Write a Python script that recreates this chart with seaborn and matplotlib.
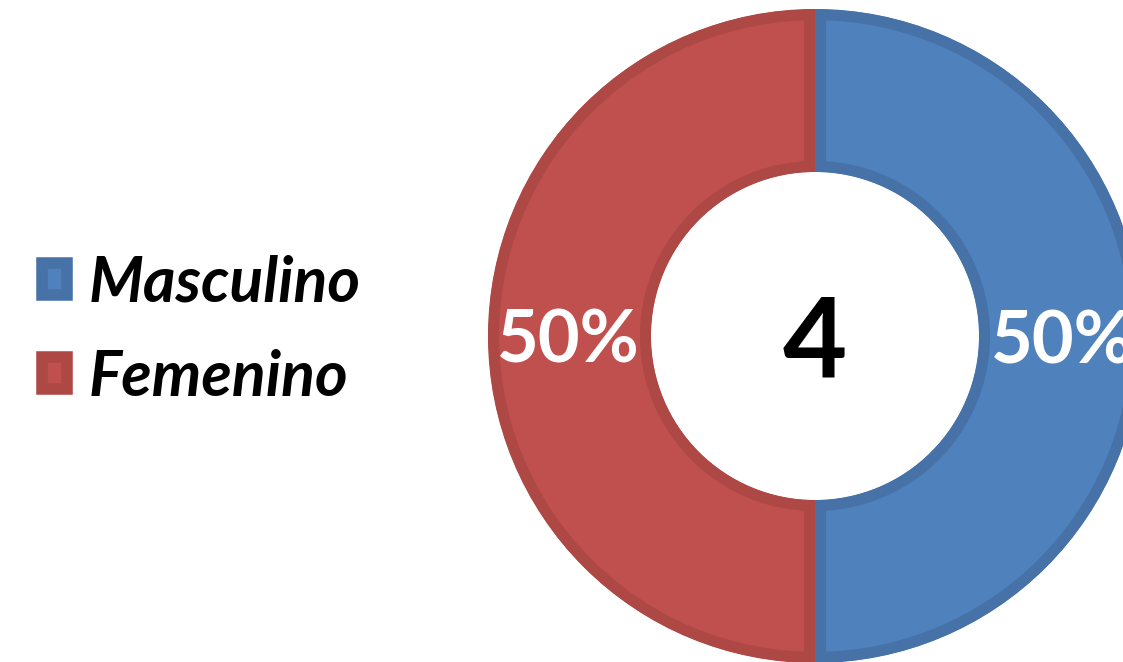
import matplotlib.pyplot as plt
import matplotlib.patches as mpatches
import seaborn as sns

sns.set_theme(style='white')

# datos
categorias = ['Masculino', 'Femenino']
valores = [2, 2]
total = sum(valores)
colores = ['#4F81BD', '#C0504D']
bordes = ['#4672A8', '#AD4845']

fig = plt.figure(figsize=(11.23, 6.62), dpi=100)
ax = fig.add_axes([0, 0, 1, 1])

wedges, texts, autotexts = ax.pie(
    valores, colors=colores, startangle=90, counterclock=False,
    radius=327, center=(815, 326),
    wedgeprops=dict(width=163, linewidth=16),
    autopct='%1.0f%%', pctdistance=0.755,
    textprops=dict(color='white', fontsize=52, fontweight='bold', family='Lato',
                   va='center_baseline'))

# borde interior (trazo recortado a la propia cuña)
for w, c in zip(wedges, bordes):
    w.set_edgecolor(c)
    w.set_clip_on(True)
    w.set_clip_path(w)

ax.text(815, 326, str(total), ha='center', va='center_baseline', fontsize=80,
        fontweight='bold', family='Lato', color='black')

ax.set_xlim(0, 1123)
ax.set_ylim(0, 662)
ax.axis('off')

handles = [mpatches.Patch(facecolor=f, edgecolor=b, linewidth=8.3)
           for f, b in zip(colores, bordes)]
leg = ax.legend(handles, categorias, loc='center left', bbox_to_anchor=(0.0372, 0.5015),
                frameon=False, borderpad=0, borderaxespad=0,
                handlelength=0.41, handleheight=0.41,
                handletextpad=0.34, labelspacing=0.6,
                prop=dict(family='Lato', weight='bold', style='italic', size=45))
for t in leg.get_texts():
    t.set_color('black')

fig.savefig('out.png', dpi=100, facecolor='white')
